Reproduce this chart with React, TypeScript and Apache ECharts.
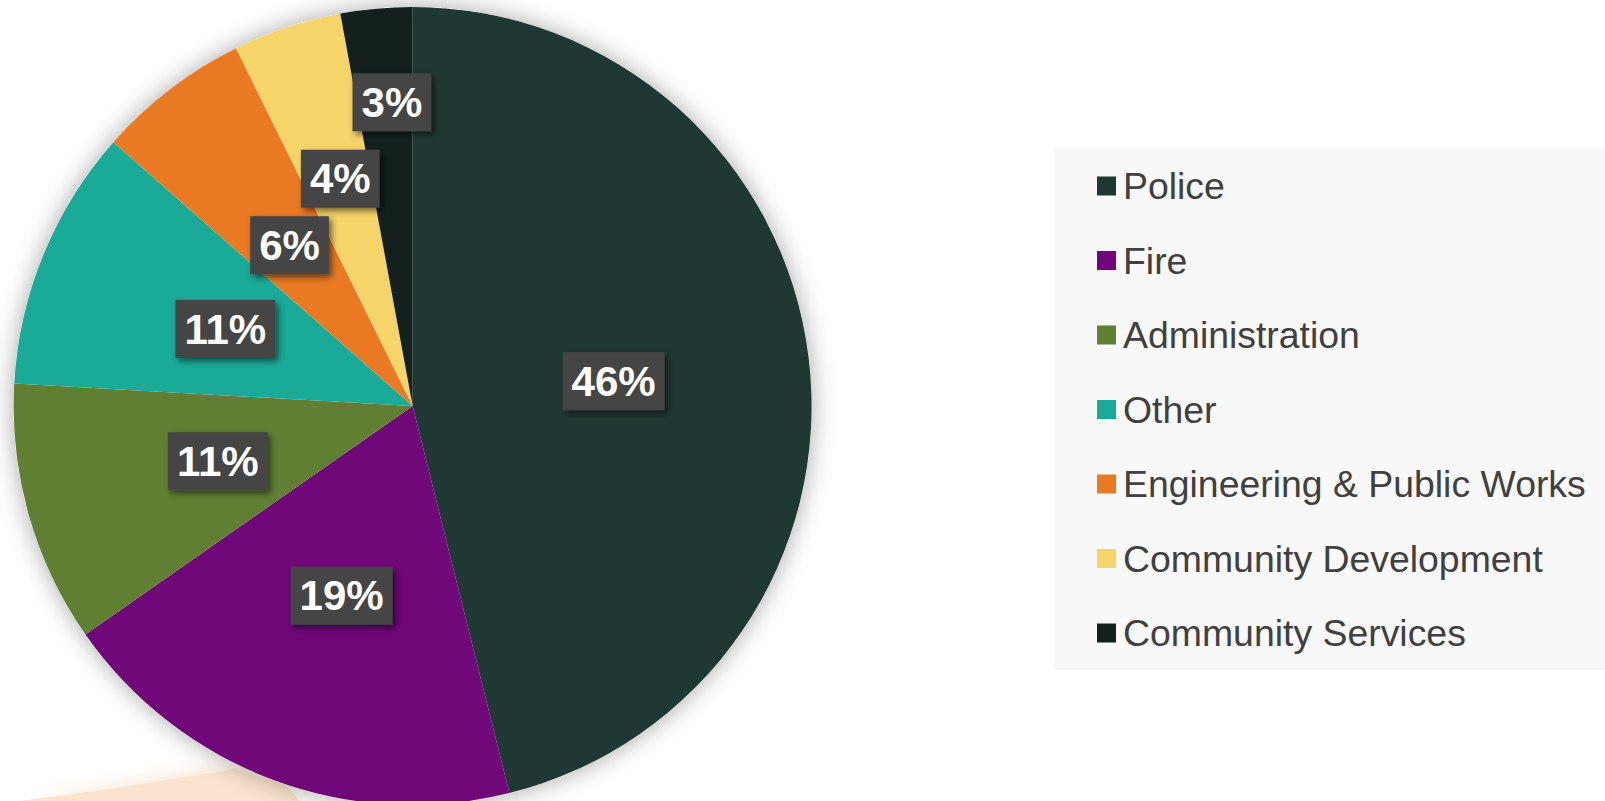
import React, { useEffect, useRef } from "react";
import * as echarts from "echarts";

const categories = [
  "Police",
  "Fire",
  "Administration",
  "Other",
  "Engineering & Public Works",
  "Community Development",
  "Community Services",
];
const shares = [46.1, 19.2, 10.6, 10.6, 6.2, 4.4, 2.9];
const colors = ["#203833", "#6f0778", "#607f32", "#1aaa98", "#e97a23", "#f5d469", "#13201d"];

// layout constants
const CX = 412.6;
const CY = 406;
const R = 399;
// extra [radial, tangential] offset (px) for small-slice labels, as placed in the original
const labelShift: Record<number, [number, number]> = { 5: [36, 3], 6: [102, 7] };

export default function App() {
  const ref = useRef<HTMLDivElement>(null);
  useEffect(() => {
    if (!ref.current) return;
    const chart = echarts.init(ref.current, undefined, { renderer: "svg" });
    const total = shares.reduce((a, b) => a + b, 0);
    const midAngles: number[] = [];
    let acc = 0;
    shares.forEach((v) => {
      midAngles.push(((acc + v / 2) / total) * Math.PI * 2);
      acc += v;
    });
    const font = "'Liberation Sans', Arial, sans-serif";
    chart.setOption({
      animation: false,
      backgroundColor: "#ffffff",
      graphic: [
        {
          type: "rect",
          z: 0,
          shape: { x: 1054, y: 147, width: 600, height: 523 },
          style: { fill: "#f8f8f8" },
        },
        {
          type: "polygon",
          z: 0,
          shape: {
            points: [
              [20, 801],
              [110, 789],
              [235, 769],
              [285, 785],
              [300, 801],
            ],
          },
          style: {
            fill: "#fae3cf",
            shadowBlur: 20,
            shadowColor: "rgba(248,218,192,0.9)",
          },
        },
      ],
      legend: {
        orient: "vertical",
        left: 1092,
        top: 161,
        data: categories,
        icon: "rect",
        itemWidth: 19,
        itemHeight: 19,
        itemGap: 34.5,
        selectedMode: false,
        textStyle: {
          fontSize: 37.4,
          color: "#404040",
          fontFamily: font,
          lineHeight: 40,
          padding: [0, 0, 0, 2],
        },
      },
      series: [
        {
          type: "pie",
          silent: true,
          z: 1,
          center: [CX, CY],
          radius: R,
          label: { show: false },
          labelLine: { show: false },
          itemStyle: {
            color: "#ffffff",
            shadowBlur: 25,
            shadowColor: "rgba(0,0,0,0.35)",
          },
          data: [{ value: 1, name: "__bg" }],
        },
        {
          type: "pie",
          z: 2,
          center: [CX, CY],
          radius: R,
          startAngle: 90,
          clockwise: true,
          avoidLabelOverlap: false,
          silent: true,
          emphasis: { disabled: true },
          itemStyle: { borderWidth: 0 },
          label: {
            show: true,
            position: "inside",
            formatter: (p: any) => Math.round(p.percent) + "%",
            color: "#ffffff",
            fontSize: 42,
            fontWeight: "bold",
            fontFamily: font,
            lineHeight: 48,
            backgroundColor: "#444444",
            padding: [5, 9],
            shadowBlur: 6,
            shadowColor: "rgba(0,0,0,0.55)",
            shadowOffsetX: 3,
            shadowOffsetY: 3,
          },
          labelLine: { show: false },
          labelLayout: (params: any) => {
            const i = params.dataIndex;
            const s = labelShift[i];
            if (!s) return {};
            const a = midAngles[i];
            const [rad, tan] = s;
            return {
              dx: rad * Math.sin(a) + tan * Math.cos(a),
              dy: -rad * Math.cos(a) + tan * Math.sin(a),
            };
          },
          data: categories.map((name, i) => ({
            name,
            value: shares[i],
            itemStyle: { color: colors[i] },
          })),
        },
      ],
    });
    return () => chart.dispose();
  }, []);
  return (
    <div
      ref={ref}
      style={{ position: "fixed", left: 0, top: 0, width: 1605, height: 801 }}
    />
  );
}
